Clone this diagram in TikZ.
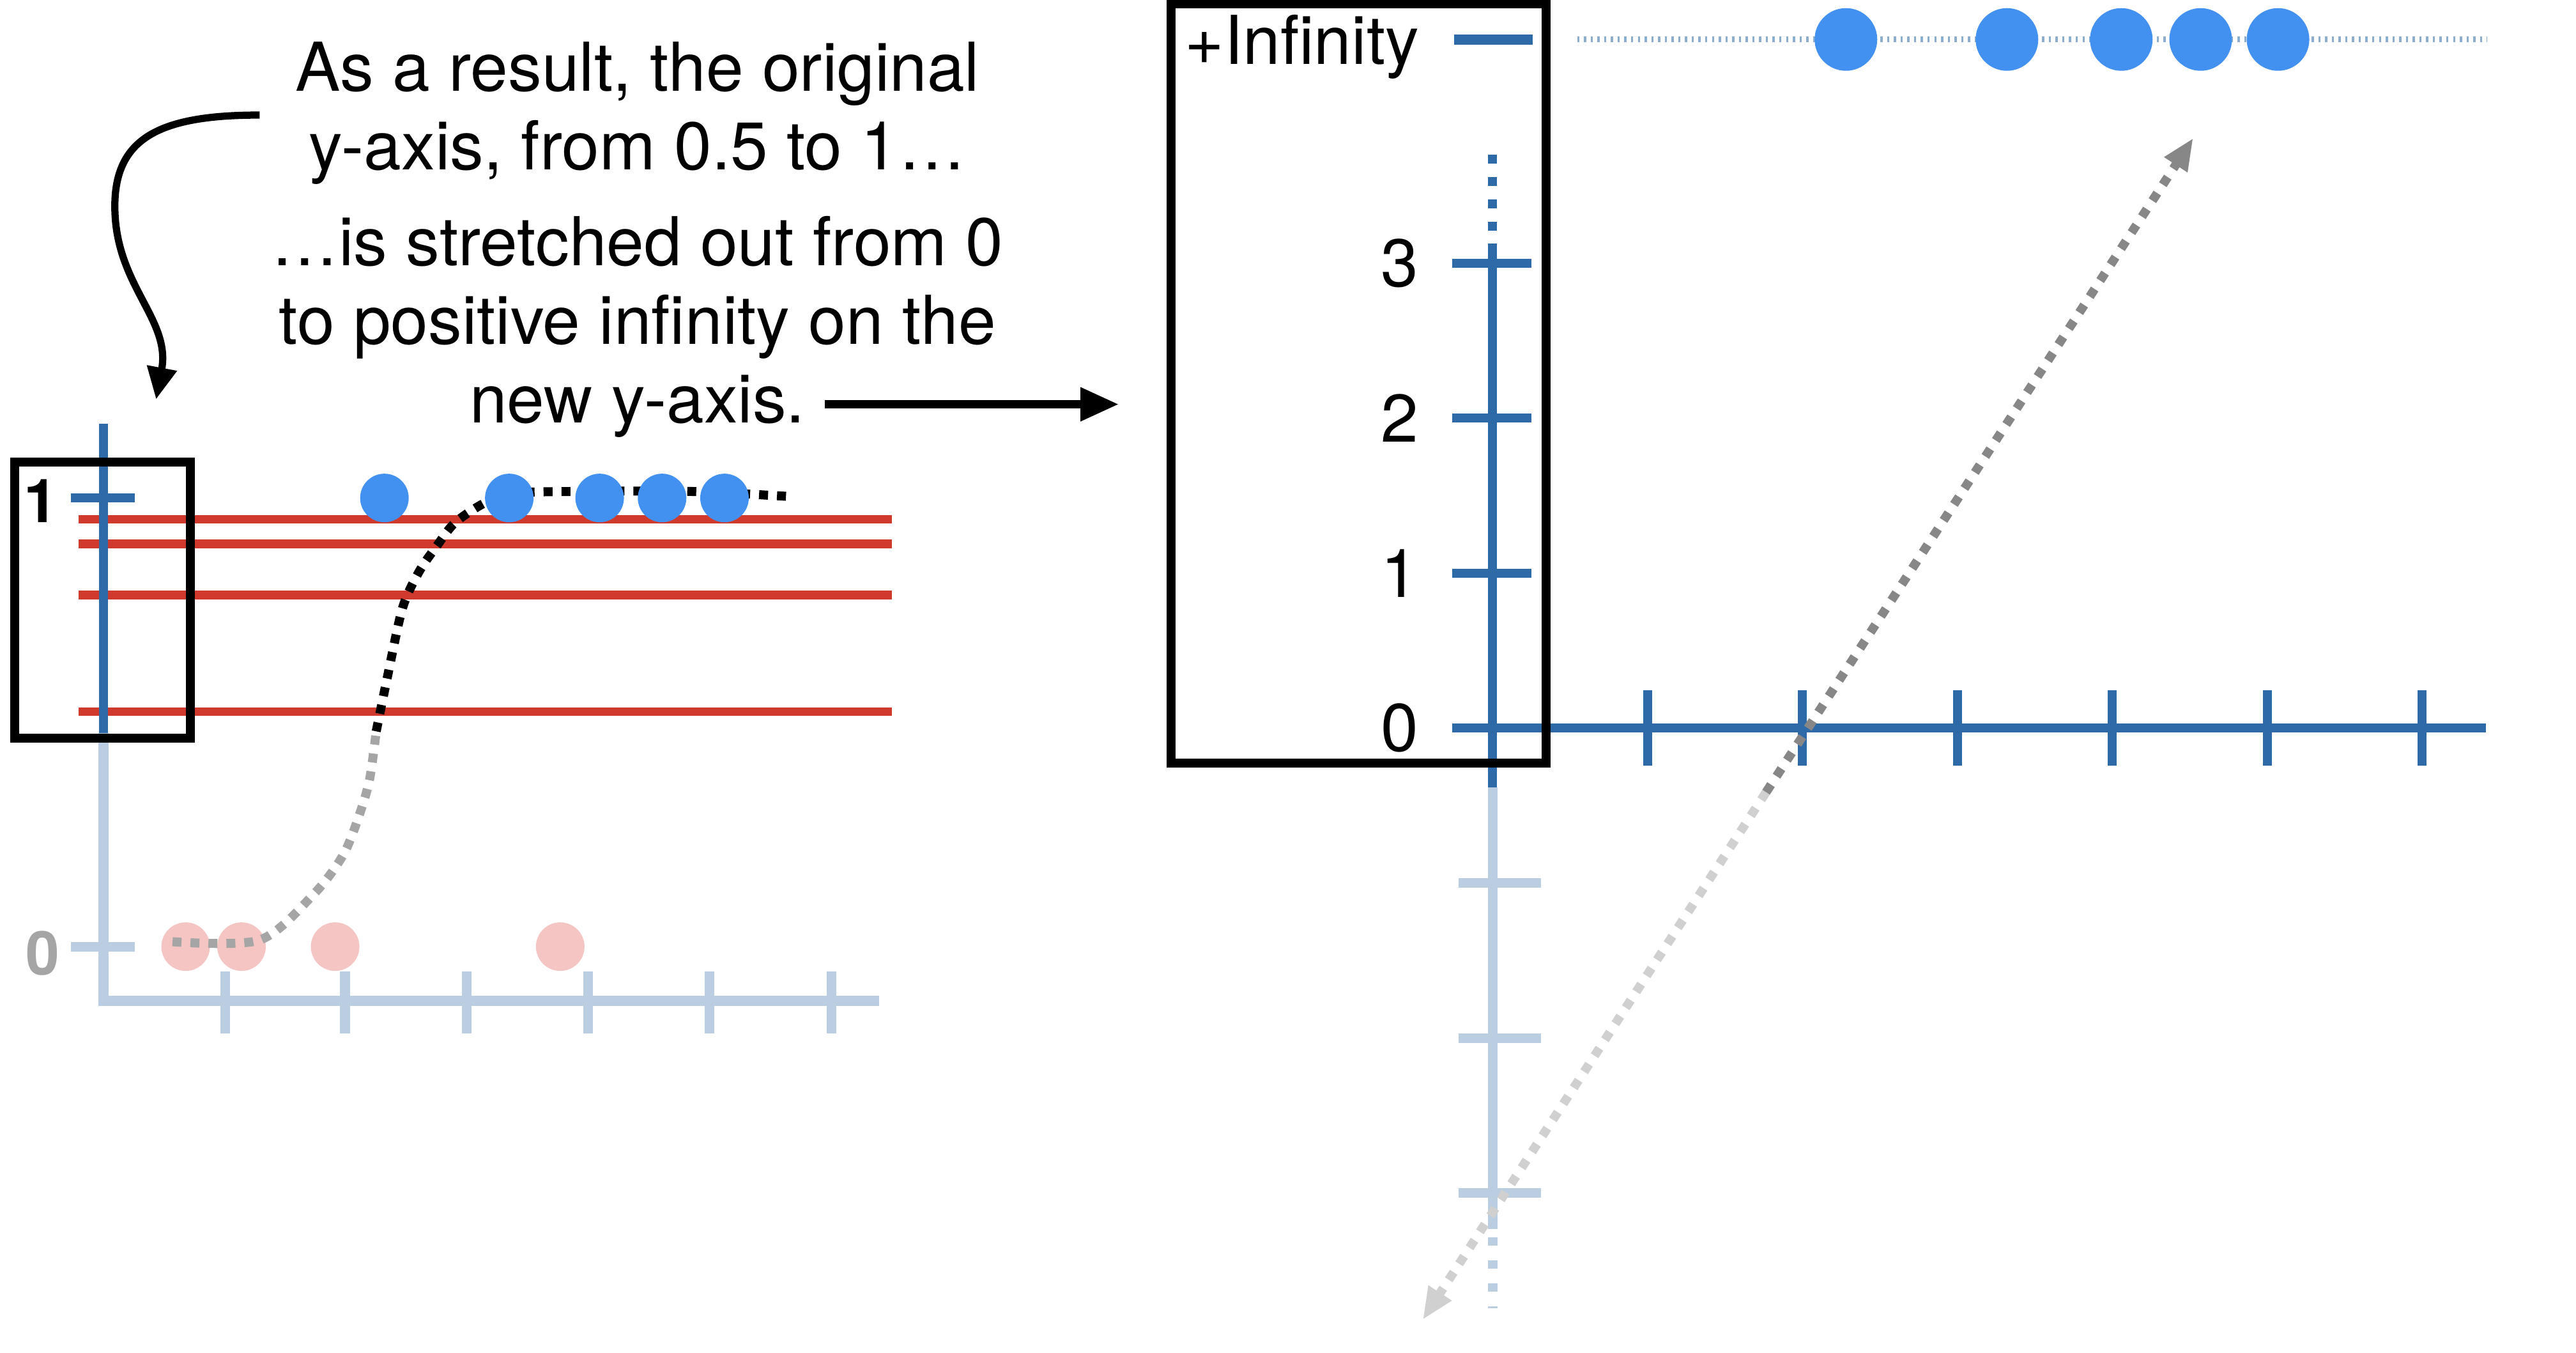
\documentclass[tikz,border=0pt]{standalone}
\usepackage{fontspec}
\setmainfont{TeX Gyre Heros}
\usetikzlibrary{arrows.meta}

\definecolor{azulosc}{RGB}{46,106,168}
\definecolor{azulclaro}{RGB}{186,205,225}
\definecolor{azulfino}{RGB}{140,172,208}
\definecolor{rojolinea}{RGB}{208,58,44}
\definecolor{azulpunto}{RGB}{66,145,240}
\definecolor{rosa}{RGB}{244,197,195}
\definecolor{grisclaro}{RGB}{208,208,208}
\definecolor{grismedio}{RGB}{135,135,135}
\definecolor{grisnum}{RGB}{165,165,165}

\tikzset{
  texto/.style={font=\fontsize{30}{35}\selectfont, align=center, inner sep=0pt},
  etiqueta/.style={font=\fontsize{27}{32}\selectfont\bfseries, inner sep=0pt},
  ejeosc/.style={draw=azulosc, line width=4pt},
  ejeclaro/.style={draw=azulclaro, line width=4.3pt},
  linearoja/.style={draw=rojolinea, line width=3.8pt},
  caja/.style={draw=black, line width=4pt},
  flecha/.style={draw=black, line width=3.2pt, -{Triangle[length=0.5cm,width=0.45cm]}},
  puntos/.style={line width=4pt, dash pattern=on 4pt off 4pt}
}

\begin{document}
\begin{tikzpicture}[x=0.025714cm, y=-0.025714cm]
  \useasboundingbox (0,0) rectangle (1568,823);

  % Texto explicativo
  \node[texto] (nota1) at (388,69) {As a result, the original\\y-axis, from 0.5 to 1…};
  \node[texto] (nota2) at (388,199) {…is stretched out from 0\\to positive infinity on the\\new y-axis.};

  % Flechas negras
  \coordinate (curvaIni) at (158,70);
  \coordinate (curvaFin) at (95,243);
  \draw[flecha] (curvaIni) .. controls (95,70) and (68,85) .. (70,130)
    .. controls (72,175) and (104,195) .. (curvaFin);
  \coordinate (rectaIni) at (502,246);
  \coordinate (rectaFin) at (681,246);
  \draw[flecha, line width=3.6pt, -{Triangle[length=0.6cm,width=0.5cm]}] (rectaIni) -- (rectaFin);

  % Ejes originales
  \draw[ejeclaro] (63,446) -- (63,609) -- (535,609);
  \foreach \x in {137,210,284,358,432,506} {
    \draw[ejeclaro] (\x,591) -- (\x,629);
  }
  \draw[ejeclaro] (43,576) -- (82,576);
  \node[etiqueta, text=grisnum] (cero) at (26,580) {0};
  \foreach \x in {113,147,204,341} {
    \fill[rosa] (\x,576) circle (0.38cm);
  }
  \foreach \y in {316,331,362,433} {
    \draw[linearoja] (48,\y) -- (543,\y);
  }
  \draw[ejeosc] (63,258) -- (63,446);
  \draw[ejeosc] (43,303) -- (82,303);
  \node[etiqueta] (uno) at (25,305) {1};

  % Curva punteada
  \draw[puntos, grisnum] plot[smooth] coordinates {(105,573) (158,572) (191,544)
    (209,520) (219,495) (225,474) (229,445)};
  \draw[puntos, black] plot[smooth] coordinates {(229,445) (236,411) (245,370)
    (255,348) (266,332) (277,318) (295,306) (313,300) (360,299) (420,299) (479,302)};
  \foreach \x in {234,310,365,403,441} {
    \fill[azulpunto] (\x,303) circle (0.38cm);
  }
  \draw[caja] (9,281) rectangle (116,449);

  % Nuevo eje y
  \draw[ejeclaro] (908.5,479) -- (908.5,748);
  \draw[ejeclaro, dash pattern=on 3.7pt off 6.5pt] (908.5,753) -- (908.5,796);
  \foreach \y in {537.3,631.6,725.9} {
    \draw[ejeclaro] (888,\y) -- (938,\y);
  }
  \draw[ejeosc] (908.5,148) -- (908.5,479);
  \draw[ejeosc, dash pattern=on 4pt off 6pt] (908.5,94) -- (908.5,146);
  \draw[ejeosc] (884,443) -- (1513,443);
  \foreach \k in {1,...,6} {
    \draw[ejeosc] ({908.5+94.3*\k},420) -- ({908.5+94.3*\k},466);
  }
  \foreach \y/\n in {443/0,348.7/1,254.4/2,160.1/3} {
    \draw[ejeosc] (884,\y) -- (932,\y);
    \node[texto] (num\n) at (852,\y) {\n};
  }

  % Infinito
  \node[texto, anchor=base] (infinito) at (792.5,39) {+Infinity};
  \draw[ejeosc, line width=4.5pt] (885,24) -- (933,24);
  \draw[azulfino, line width=2.5pt, dash pattern=on 1pt off 2pt] (960,24) -- (1514,24);
  \foreach \x in {1123.6,1221.6,1291.2,1339.5,1386.6} {
    \fill[azulpunto] (\x,24) circle (0.49cm);
  }

  % Flecha diagonal
  \coordinate (diagAbajo) at (866,803);
  \coordinate (diagArriba) at (1335,84);
  \coordinate (diagMedio) at (1075,482);
  \draw[puntos, dash pattern=on 4pt off 4.5pt, grisclaro,
    -{Triangle[length=0.5cm,width=0.4cm]}] (diagMedio) -- (diagAbajo);
  \draw[puntos, dash pattern=on 4pt off 4.5pt, grismedio,
    -{Triangle[length=0.5cm,width=0.4cm]}] (diagMedio) -- (diagArriba);

  \draw[caja] (713,2.5) rectangle (941,464.5);
\end{tikzpicture}
\end{document}
